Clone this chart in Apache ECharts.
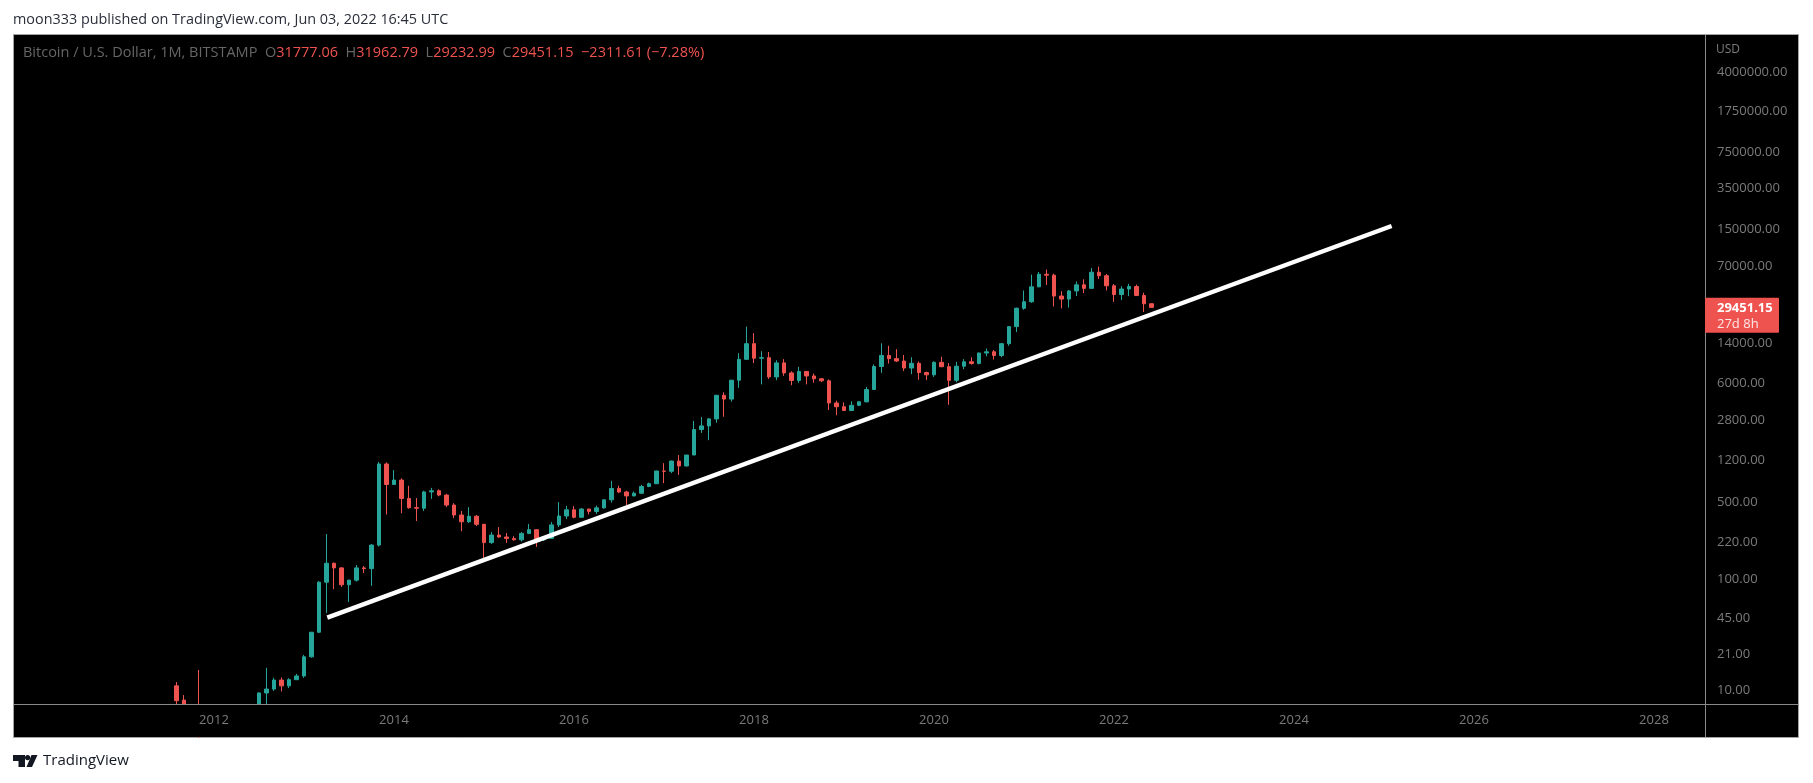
<!DOCTYPE html>
<html>
<head>
<meta charset="utf-8">
<script src="https://cdn.jsdelivr.net/npm/echarts@6/dist/echarts.min.js"></script>
<style>
html,body{margin:0;padding:0;background:#ffffff;}
#c{width:1813px;height:783px;}
</style>
</head>
<body>
<div id="c"></div>
<script>
// ---- Data (monthly BITSTAMP BTC/USD) ----
const months = [
  '2011-08','2011-09','2011-10','2011-11','2011-12',
  '2012-01','2012-02','2012-03','2012-04','2012-05','2012-06','2012-07','2012-08','2012-09','2012-10','2012-11','2012-12',
  '2013-01','2013-02','2013-03','2013-04','2013-05','2013-06','2013-07','2013-08','2013-09','2013-10','2013-11','2013-12',
  '2014-01','2014-02','2014-03','2014-04','2014-05','2014-06','2014-07','2014-08','2014-09','2014-10','2014-11','2014-12',
  '2015-01','2015-02','2015-03','2015-04','2015-05','2015-06','2015-07','2015-08','2015-09','2015-10','2015-11','2015-12',
  '2016-01','2016-02','2016-03','2016-04','2016-05','2016-06','2016-07','2016-08','2016-09','2016-10','2016-11','2016-12',
  '2017-01','2017-02','2017-03','2017-04','2017-05','2017-06','2017-07','2017-08','2017-09','2017-10','2017-11','2017-12',
  '2018-01','2018-02','2018-03','2018-04','2018-05','2018-06','2018-07','2018-08','2018-09','2018-10','2018-11','2018-12',
  '2019-01','2019-02','2019-03','2019-04','2019-05','2019-06','2019-07','2019-08','2019-09','2019-10','2019-11','2019-12',
  '2020-01','2020-02','2020-03','2020-04','2020-05','2020-06','2020-07','2020-08','2020-09','2020-10','2020-11','2020-12',
  '2021-01','2021-02','2021-03','2021-04','2021-05','2021-06','2021-07','2021-08','2021-09','2021-10','2021-11','2021-12',
  '2022-01','2022-02','2022-03','2022-04','2022-05','2022-06'
];
const opens = [
  10.9, 8.1, 5.1, 3.2, 3.0,
  4.7, 5.5, 4.9, 4.9, 5.0, 5.2, 6.7, 9.4, 10.2, 12.3, 10.9, 12.4,
  13.4, 20.0, 33.4, 95, 141, 128, 90, 99, 128, 126, 206, 1120,
  730, 800, 545, 450, 445, 625, 640, 585, 475, 386, 335, 376,
  318, 217, 254, 244, 236, 230, 263, 284, 230, 237, 314, 378,
  430, 368, 437, 416, 448, 530, 670, 624, 575, 608, 700, 742,
  966, 962, 1190, 1075, 1350, 2300, 2480, 2870, 4700, 4340, 6440, 9950,
  13800, 10200, 10300, 6900, 9240, 7500, 6400, 7730, 7030, 6630, 6360, 4000,
  3700, 3420, 3810, 4100, 5300, 8570, 10800, 10100, 9600, 8300, 9150, 7550,
  7200, 9350, 8530, 6420, 8620, 9450, 9140, 11350, 11650, 10780, 13800, 19700,
  28900, 33100, 45200, 58800, 57700, 37300, 35000, 41500, 47100, 43800, 61300, 57000,
  46200, 38500, 43200, 45500, 37700, 31777.06
];
const highs = [
  11.8, 9.0, 5.2, 15.2, 4.8,
  7.0, 6.2, 5.4, 5.3, 5.2, 6.7, 9.5, 15.9, 12.9, 13.0, 12.8, 14.0,
  20.8, 33.6, 97, 259, 143, 130, 100, 136, 133, 210, 1170, 1160,
  985, 830, 710, 550, 640, 680, 660, 600, 495, 420, 455, 386,
  320, 270, 300, 265, 248, 270, 320, 288, 248, 334, 505, 467,
  465, 445, 440, 470, 535, 786, 710, 640, 630, 725, 760, 975,
  1140, 1200, 1350, 1350, 2750, 2980, 2920, 4720, 5000, 6460, 11300, 19700,
  17200, 11800, 11600, 9760, 10000, 7750, 8500, 7800, 7400, 6700, 6550, 4200,
  4050, 4150, 4150, 5600, 8950, 13900, 13200, 12300, 10900, 10400, 9500, 7700,
  9550, 10500, 9200, 9450, 10000, 10400, 11450, 12470, 12100, 14000, 19800, 29300,
  41900, 58300, 61700, 64900, 59500, 41300, 42300, 50500, 52900, 67000, 69000, 59000,
  47900, 45800, 48200, 47400, 40000, 31962.79
];
const lows = [
  6.8, 4.8, 2.2, 2.0, 2.7,
  4.4, 4.2, 4.7, 4.8, 4.9, 5.2, 6.5, 7.2, 9.8, 9.7, 10.4, 12.4,
  12.9, 19.6, 32.9, 50, 82, 86, 63, 96, 115, 88, 200, 390,
  725, 400, 440, 340, 420, 540, 570, 455, 362, 275, 327, 307,
  153, 211, 240, 215, 226, 222, 259, 198, 224, 235, 300, 355,
  360, 366, 390, 395, 440, 500, 610, 475, 570, 600, 690, 740,
  750, 925, 890, 1060, 1350, 2140, 1840, 2650, 3000, 4120, 5500, 10400,
  9200, 5900, 6600, 6430, 7050, 5800, 6100, 5900, 6100, 6200, 3460, 3100,
  3380, 3400, 3750, 4050, 5300, 7500, 9100, 9400, 7800, 7300, 6500, 6450,
  6900, 8450, 3850, 6150, 8100, 8900, 8950, 10600, 9900, 10400, 13200, 17600,
  28000, 32300, 44900, 47000, 30000, 28800, 29300, 37300, 39600, 43300, 53300, 42000,
  33000, 34300, 37200, 37600, 26700, 29232.99
];
const closes = [
  8.0, 5.1, 3.2, 3.0, 4.7,
  5.5, 4.9, 4.9, 5.0, 5.2, 6.7, 9.4, 10.2, 12.3, 10.9, 12.4, 13.4,
  20.0, 33.4, 95, 141, 128, 90, 99, 128, 126, 206, 1120, 730,
  800, 545, 450, 445, 625, 640, 585, 475, 386, 335, 376, 318,
  217, 254, 244, 236, 230, 263, 284, 230, 237, 314, 378, 430,
  368, 437, 416, 448, 530, 670, 624, 575, 608, 700, 742, 966,
  962, 1190, 1075, 1350, 2300, 2480, 2870, 4700, 4340, 6440, 9950, 13800,
  10200, 10300, 6900, 9240, 7500, 6400, 7730, 7030, 6630, 6360, 4000, 3700,
  3420, 3810, 4100, 5300, 8570, 10800, 10100, 9600, 8300, 9150, 7550, 7200,
  9350, 8530, 6420, 8620, 9450, 9140, 11350, 11650, 10780, 13800, 19700, 28900,
  33100, 45200, 58800, 57700, 37300, 35000, 41500, 47100, 43800, 61300, 57000, 46200,
  38500, 43200, 45500, 37700, 31762.76, 29451.15
];
// trend line drawn on the chart (decimal year, price)
const trendYears = [2013.259, 2025.085];
const trendValues = [45.25, 161000];
// axis tick labels
const xTicks = [2012, 2014, 2016, 2018, 2020, 2022, 2024, 2026, 2028];
const yTicks = [10, 21, 45, 100, 220, 500, 1200, 2800, 6000, 14000, 70000, 150000, 350000, 750000, 1750000, 4000000];

// ---- Build ----
const FONT = '"Open Sans", "Liberation Sans", sans-serif';
const GREEN = '#26a69a', RED = '#ef5350';
const toYear = m => { const p = m.split('-').map(Number); return p[0] + (p[1] - 1) / 12; };
const candles = months.map((m, i) => [toYear(m), opens[i], closes[i], lows[i], highs[i]]);
const trend = trendYears.map((y, i) => [y, trendValues[i]]);

const n = closes.length;
const lastO = opens[n - 1], lastH = highs[n - 1], lastL = lows[n - 1], lastC = closes[n - 1];
const chg = lastC - closes[n - 2];
const pct = chg / closes[n - 2] * 100;
const fmtSigned = v => (v < 0 ? '\u2212' : '+') + Math.abs(v).toFixed(2);

const chart = echarts.init(document.getElementById('c'));

const baseGraphics = [
  { type: 'rect', z: -10, shape: { x: 13.5, y: 34.5, width: 1785, height: 703 },
    style: { fill: '#000000', stroke: '#a3a3a3', lineWidth: 1 } },
  // masks hiding the parts of candles that fall below the price scale
  { type: 'rect', z: 5, shape: { x: 14, y: 705, width: 1784, height: 32 }, style: { fill: '#000000' } },
  { type: 'rect', z: 5, shape: { x: 0, y: 738, width: 1813, height: 45 }, style: { fill: '#ffffff' } },
  { type: 'line', z: 12, shape: { x1: 1705.5, y1: 35, x2: 1705.5, y2: 737 }, style: { stroke: '#8a8a8a', lineWidth: 1 } },
  { type: 'line', z: 12, shape: { x1: 14, y1: 704.5, x2: 1798, y2: 704.5 }, style: { stroke: '#8a8a8a', lineWidth: 1 } },
  { type: 'text', z: 12, style: { x: 13, y: 20, text: 'moon333 published on TradingView.com, Jun 03, 2022 16:45 UTC',
      fontFamily: FONT, fontSize: 14.4, fill: '#2a2e39', verticalAlign: 'middle' } },
  { type: 'text', z: 12, style: { x: 23, y: 53, verticalAlign: 'middle', fontFamily: FONT, fontSize: 14.5,
      text: '{g|Bitcoin / U.S. Dollar, 1M, BITSTAMP  O}{r|' + lastO.toFixed(2) + '}{g|  H}{r|' + lastH.toFixed(2) +
            '}{g|  L}{r|' + lastL.toFixed(2) + '}{g|  C}{r|' + lastC.toFixed(2) + '}{r|  ' + fmtSigned(chg) + ' (' + fmtSigned(pct) + '%)}',
      rich: { g: { fill: '#666666', fontFamily: FONT, fontSize: 14.5 }, r: { fill: RED, fontFamily: FONT, fontSize: 14.5 } } } },
  { type: 'text', z: 12, style: { x: 1716, y: 50, text: 'USD', fontFamily: FONT, fontSize: 12, fill: '#7b7b7b', verticalAlign: 'middle' } },
  // TradingView logo + wordmark
  { type: 'polygon', z: 12, shape: { points: [[13,755],[25,755],[25,767],[18.5,767],[18.5,761],[13,761]] }, style: { fill: '#131722' } },
  { type: 'circle', z: 12, shape: { cx: 27.6, cy: 757.6, r: 2.6 }, style: { fill: '#131722' } },
  { type: 'polygon', z: 12, shape: { points: [[31.5,755],[37.5,755],[32,767],[26.5,767]] }, style: { fill: '#131722' } },
  { type: 'text', z: 12, style: { x: 43, y: 761, text: 'TradingView', fontFamily: FONT, fontSize: 15, fill: '#131722', verticalAlign: 'middle' } }
];

const option = {
  animation: false,
  backgroundColor: '#ffffff',
  grid: { left: 13, right: 108, top: 34, bottom: 79, containLabel: false, outerBoundsMode: 'none' },
  xAxis: {
    type: 'value', min: 2009.767, max: 2028.567, z: 10,
    axisLine: { show: false }, axisTick: { show: false }, splitLine: { show: false },
    axisLabel: { customValues: xTicks, formatter: v => String(Math.round(v)), color: '#7b7b7b',
      fontSize: 13, fontFamily: FONT, margin: 10 }
  },
  yAxis: {
    type: 'log', logBase: 10, position: 'right', min: 7.466, max: 8.86e6, z: 10,
    axisLine: { show: false }, axisTick: { show: false }, splitLine: { show: false },
    axisLabel: { customValues: yTicks, formatter: v => Number(v).toFixed(2), color: '#7b7b7b',
      fontSize: 13, fontFamily: FONT, margin: 12, align: 'left' }
  },
  series: [
    { type: 'candlestick', data: candles, encode: { x: 0, y: [1, 2, 3, 4] }, barWidth: 4, clip: true, z: 2,
      itemStyle: { color: GREEN, color0: RED, borderColor: GREEN, borderColor0: RED, borderWidth: 1 } },
    { type: 'line', data: trend, symbol: 'none', z: 3, clip: false,
      lineStyle: { color: '#ffffff', width: 4.5 } }
  ],
  graphic: baseGraphics
};
chart.setOption(option);

// price label box on the price scale at the last close
const py = chart.convertToPixel({ yAxisIndex: 0 }, lastC);
chart.setOption({
  graphic: baseGraphics.concat([
    { type: 'rect', z: 20, shape: { x: 1705, y: py - 9.5, width: 74, height: 35, r: 1 }, style: { fill: RED } },
    { type: 'text', z: 21, style: { x: 1717, y: py + 1, text: lastC.toFixed(2), fontFamily: FONT, fontSize: 13, fontWeight: 'bold', fill: '#ffffff', verticalAlign: 'middle' } },
    { type: 'text', z: 21, style: { x: 1717, y: py + 17, text: '27d 8h', fontFamily: FONT, fontSize: 13, fill: '#fde8e8', verticalAlign: 'middle' } }
  ])
}, { replaceMerge: ['graphic'] });
</script>
</body>
</html>
